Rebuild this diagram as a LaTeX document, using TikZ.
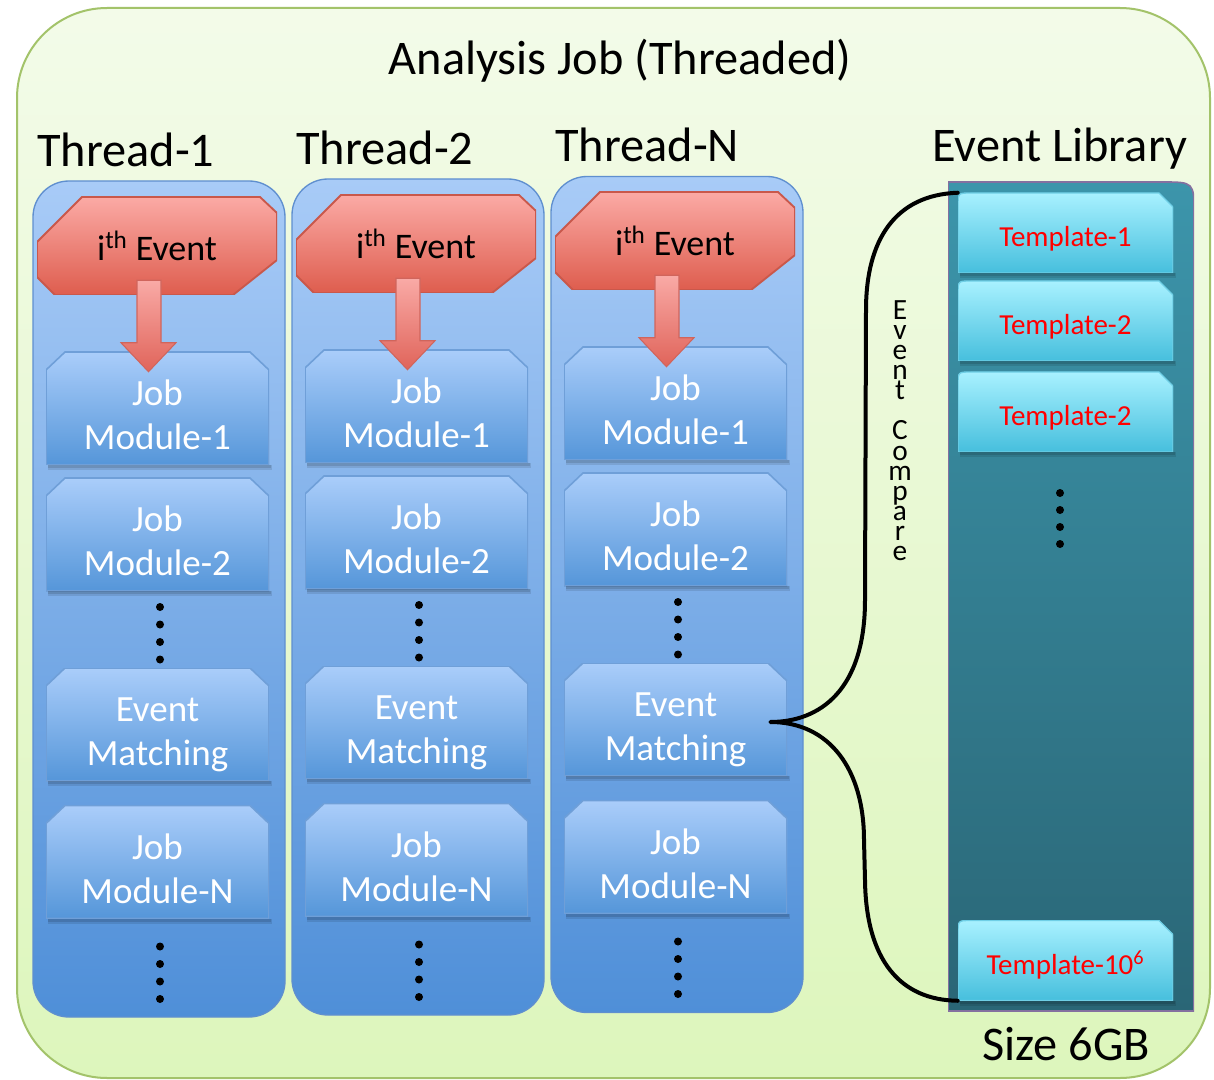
\documentclass[tikz,border=0pt]{standalone}
\usepackage{fontspec}
\setmainfont{Carlito}
\usetikzlibrary{calc}
\definecolor{outtop}{HTML}{F3FBE9}
\definecolor{outbot}{HTML}{DDF6BC}
\definecolor{outline}{HTML}{A3C36A}
\definecolor{thrtop}{HTML}{A8CBF7}
\definecolor{thrbot}{HTML}{4F8FD8}
\definecolor{thrline}{HTML}{5F8FCF}
\definecolor{modtop}{HTML}{AACDFA}
\definecolor{modbot}{HTML}{5596D9}
\definecolor{modline}{HTML}{6F9FD8}
\definecolor{evtop}{HTML}{FBAAA5}
\definecolor{evbot}{HTML}{DE5D4E}
\definecolor{evline}{HTML}{C9584B}
\definecolor{arrtop}{HTML}{F9AAA6}
\definecolor{arrbot}{HTML}{E0645A}
\definecolor{arrline}{HTML}{D0655C}
\definecolor{libtop}{HTML}{3C95AB}
\definecolor{libbot}{HTML}{2A6676}
\definecolor{libline}{HTML}{8470A0}
\definecolor{tpltop}{HTML}{A8F1FF}
\definecolor{tplbot}{HTML}{46BFDD}
\definecolor{tplline}{HTML}{6FCFE6}
\newcommand\fBig{\fontsize{36.25pt}{40pt}\selectfont}
\newcommand\fMod{\fontsize{27.75pt}{33pt}\selectfont}
\newcommand\fEv{\fontsize{27pt}{30pt}\selectfont}
\newcommand\fTpl{\fontsize{21.75pt}{24pt}\selectfont}
\newcommand\fCmp{\fontsize{22pt}{15.1pt}\selectfont}
\newcommand\mtxt[2]{\rule{0pt}{35pt}#1\\#2\rule[-6pt]{0pt}{6pt}}
\newcommand\ppc{%
  \coordinate (NW) at (path picture bounding box.north west);
  \coordinate (NE) at (path picture bounding box.north east);
  \coordinate (SW) at (path picture bounding box.south west);
  \coordinate (SE) at (path picture bounding box.south east);}
\newcommand\blockarrow[2]{%
  \shadedraw[top color=arrtop,bottom color=arrbot,draw=arrline,line width=0.8pt]
    ($(#1.south)+(-20,-15)$) -- ($(#1.south)+(4,-15)$) -- ($(#2.north)+(3.5,-9)$)
    -- ($(#2.north)+(18.5,-9)$) -- ($(#2.north)+(-9,20)$) -- ($(#2.north)+(-36.5,-9)$)
    -- ($(#2.north)+(-20.5,-9)$) -- cycle;}
\newcommand\shadowbelow[1]{%
  \fill[black, opacity=0.10] ($(#1.south west)+(2,0)$) rectangle ($(#1.south east)+(3,5)$);
  \fill[black, opacity=0.12] ($(#1.south west)+(2,0)$) rectangle ($(#1.south east)+(2,3)$);}
\tikzset{
 outerbox/.style={rectangle, rounded corners=67.5pt, minimum width=894.75pt, minimum height=802.5pt,
   top color=outtop, bottom color=outbot, draw=outline, line width=1.5pt, inner sep=0pt},
 bigtext/.style={font=\fBig, inner sep=0pt, text=black},
 thread/.style={rectangle, rounded corners=27pt, minimum width=189pt, minimum height=627pt,
   top color=thrtop, bottom color=thrbot, draw=thrline, line width=1pt, inner sep=0pt},
 evbox/.style={rectangle, inner sep=0pt, minimum width=180pt, minimum height=73.5pt, font=\fEv, text=black,
   text height=22pt, text depth=0pt,
   path picture={\ppc
     \shadedraw[top color=evtop, bottom color=evbot, draw=evline, line width=1.4pt]
       ($(NW)+(45,0)$) -- ($(NE)+(-17,0)$) -- ($(NE)+(0,16)$) -- ($(SE)+(0,-35)$) -- ($(SE)+(-44,0)$)
       -- ($(SW)+(18,0)$) -- ($(SW)+(0,-18)$) -- ($(NW)+(0,45)$) -- cycle;}},
 modbox/.style={rectangle, inner sep=0pt, minimum width=167.25pt, minimum height=84.75pt, font=\fMod,
   text=white, align=center,
   path picture={\ppc
     \shadedraw[top color=modtop, bottom color=modbot, draw=modline, line width=1.2pt]
       ($(NW)+(0,18)$) -- ($(NW)+(19,0)$) -- ($(NE)+(-19,0)$) -- ($(NE)+(0,18)$) -- (SE) -- (SW) -- cycle;}},
 libbox/.style={rectangle, inner sep=0pt, minimum width=184.5pt, minimum height=621.75pt,
   path picture={\ppc
     \shadedraw[top color=libtop, bottom color=libbot, draw=libline, line width=1.2pt]
       (SW) -- (NW) -- ($(NE)+(-32,0)$) .. controls (NE) .. ($(NE)+(0,32)$) -- (SE) -- cycle;}},
 tplbox/.style={rectangle, inner sep=0pt, minimum width=161.25pt, minimum height=60pt, font=\fTpl,
   text=red, text height=21pt, text depth=0pt,
   path picture={\ppc
     \shadedraw[top color=tpltop, bottom color=tplbot, draw=tplline, line width=1pt]
       (SW) -- ($(NW)+(0,13)$) .. controls (NW) .. ($(NW)+(13,0)$) -- ($(NE)+(-14,0)$)
       -- ($(NE)+(0,14)$) -- (SE) -- cycle;}},
 bracecurve/.style={draw=black, line width=3pt, line cap=round, line join=round},
 dotfill/.style={fill=black},
}
\begin{document}
\begin{tikzpicture}[x=0.75pt,y=-0.75pt]
\useasboundingbox (0,0) rectangle (1214,1080);
\fill[white] (0,0) rectangle (1214,1080);
\node[outerbox] (outer) at (613.5,543) {};
\node[bigtext, anchor=base] (title) at (620,75) {Analysis Job (Threaded)};
\node[bigtext, anchor=base west] (lt1) at (37,167) {Thread-1};
\node[bigtext, anchor=base west] (lt2) at (296,165) {Thread-2};
\node[bigtext, anchor=base west] (ltn) at (555,162) {Thread-N};
\node[bigtext, anchor=base west] (llib) at (932,162) {Event Library};
\node[bigtext, anchor=base west] (lsize) at (982,1060) {Size 6GB};
\node[thread] (th1) at (159,599) {};
\node[thread] (th2) at (418,597) {};
\node[thread] (thn) at (677,594.5) {};
\foreach \t/\dx/\dy in {1/0/0,2/259/-2,n/518/-5}{
  \node[evbox] (ev\t) at (157+\dx,246+\dy) {i\textsuperscript{th} Event};
  \node[modbox] (ma\t) at (157.5+\dx,408.5+\dy) {\mtxt{Job}{Module-1}};
  \node[modbox] (mb\t) at (157.5+\dx,534.5+\dy) {\mtxt{Job}{Module-2}};
  \node[modbox] (em\t) at (157.5+\dx,724.5+\dy) {\mtxt{Event}{Matching}};
  \node[modbox] (mn\t) at (157.5+\dx,862+\dy) {\mtxt{Job}{Module-N}};
  \shadowbelow{ma\t}\shadowbelow{mb\t}\shadowbelow{em\t}\shadowbelow{mn\t}
  \blockarrow{ev\t}{ma\t}
  \foreach \k in {0,1,2,3}{
    \fill[dotfill] (160+\dx,607+\dy+17.5*\k) circle (4);
    \fill[dotfill] (160+\dx,946.5+\dy+17.5*\k) circle (4);
  }
}
\node[libbox] (lib) at (1071,596.5) {};
\node[tplbox] (tp1) at (1065.5,233) {Template-1};
\node[tplbox] (tp2) at (1065.5,321) {Template-2};
\node[tplbox] (tp3) at (1065.5,412) {Template-2};
\node[tplbox] (tp4) at (1065.5,960.5) {Template-10\textsuperscript{6}};
\shadowbelow{tp1}\shadowbelow{tp2}\shadowbelow{tp3}\shadowbelow{tp4}
\foreach \k in {0,1,2,3}{\fill[dotfill] (1060,493+17*\k) circle (4);}
\coordinate (tip) at ($(emn.east)+(-17,2.5)$);
\draw[bracecurve] (tp1.north west) .. controls (895,195) and (866,240) .. (866,310) -- (865,600)
  .. controls (865,690) and (820,722) .. (tip)
  .. controls (830,722) and (864,770) .. (864,840) -- (865,880)
  .. controls (866,960) and (900,1000) .. (tp4.south west);
\node[font=\fCmp, align=center, inner sep=0pt, anchor=north] (cmp) at (900,300)
  {E\\v\\e\\n\\t\\[15.1pt]C\\o\\m\\p\\a\\r\\e};
\end{tikzpicture}
\end{document}
